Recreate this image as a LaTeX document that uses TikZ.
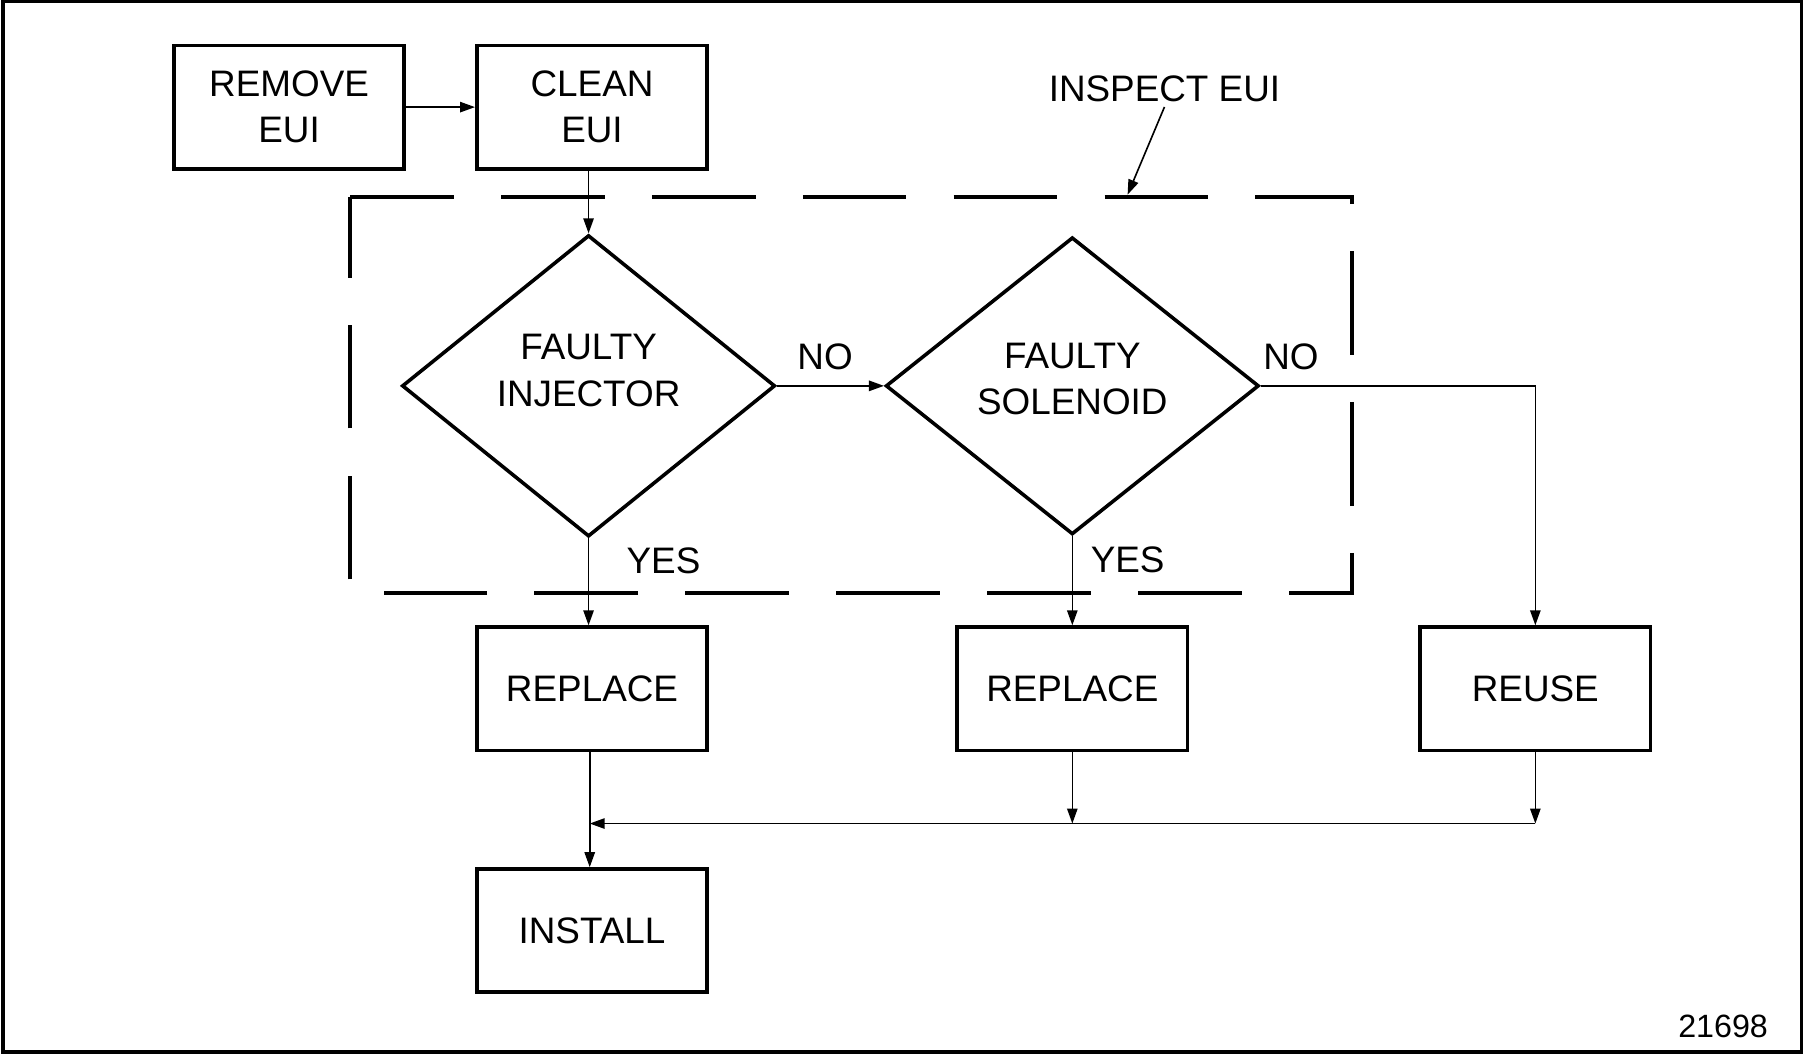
\documentclass[tikz,border=0pt]{standalone}
\usepackage{fontspec}
\setmainfont{Liberation Sans}
\usepackage{tikz}
\usetikzlibrary{shapes.geometric,arrows.meta}

\begin{document}
\begin{tikzpicture}[>={Triangle[width=9pt,length=13pt]}, line width=1.4pt, auto,
every node/.style={font=\fontsize{32}{40}\selectfont},
box/.style={draw, line width=3.2pt, minimum width=200pt, minimum height=107pt, align=center},
test/.style={draw, diamond, line width=3.1pt, minimum width=324pt, minimum height=258pt, align=center}]
\useasboundingbox (0pt, 0pt) rectangle (1568pt, -916pt);
\draw[line width=3pt] (2.5pt, -1.5pt) rectangle (1564pt, -913.5pt);
\draw[line width=3.5pt, dash pattern=on 90pt off 41pt] (304pt, -171pt) -- (1174pt, -171pt) -- (1174pt, -515pt) -- (304pt, -515pt) -- cycle;
\draw (251pt, -93pt)node[box](0){REMOVE\\EUI};
\draw (514pt, -93pt)node[box](1){CLEAN\\EUI};
\draw (1011pt, -77.5pt)node(2){INSPECT EUI};
\draw (511pt, -335pt)node[test, text depth=27pt](3){FAULTY\\INJECTOR};
\draw (931pt, -335pt)node[test, text depth=12pt](4){FAULTY\\SOLENOID};
\draw (514pt, -598pt)node[box](5){REPLACE};
\draw (931pt, -598pt)node[box](6){REPLACE};
\draw (1333pt, -598pt)node[box](7){REUSE};
\draw (514pt, -808pt)node[box](8){INSTALL};
\draw (1496pt, -890.7pt)node[font=\fontsize{28}{34}\selectfont](9){21698};
\coordinate (14) at (512pt, -715pt);
\coordinate (15) at (979pt, -169pt);
\path[->] (0) edge (1);
\path[->] (1.south -| 3.north) edge (3.north);
\path[->] (2.south) edge (15);
\path[->] (3) edge node[pos=0.45, above=10pt](10){NO} (4);
\path[->] (3.south) edge node[pos=0.26, right=29pt](11){YES} (3.south |- 5.north);
\path[->] (4) edge node[pos=0.26, right=12pt](12){YES} (6);
\draw[->] (4) -| node[pos=0.055, above=10pt](13){NO} (7);
\path[->] (5.south -| 14) edge (8.north -| 14);
\draw[->] (6) -- (6 |- 14);
\draw[->] (7) -- (7 |- 14);
\draw[->] (7 |- 14) -- (14);
\end{tikzpicture}
\end{document}
